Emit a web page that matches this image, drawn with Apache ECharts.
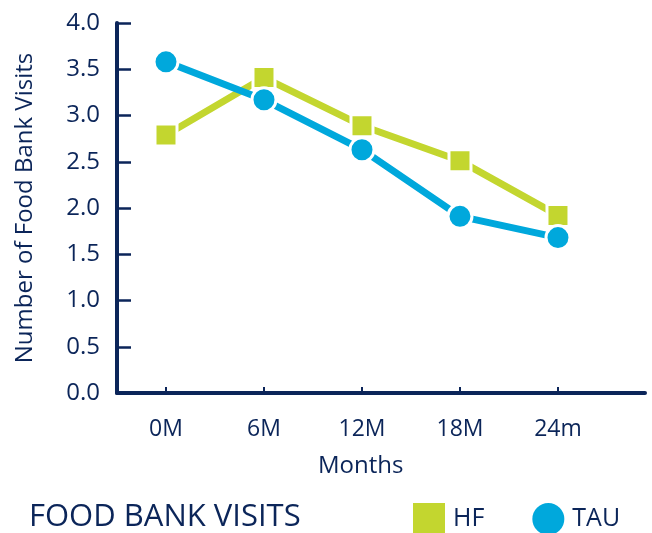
<!DOCTYPE html>
<html>
<head>
    <meta charset="UTF-8">
    <title>Food Bank Visits</title>
    <script src="https://cdn.jsdelivr.net/npm/echarts@6/dist/echarts.min.js"></script>
    <style>
        body { margin: 0; background: #fff; }
    </style>
</head>
<body>
    <div id="chart" style="width:652px; height:533px;"></div>

    <script>
        // data
        var months = ['0M', '6M', '12M', '18M', '24m'];
        var hf = [2.79, 3.41, 2.89, 2.51, 1.92];
        var tau = [3.58, 3.17, 2.63, 1.91, 1.68];
        var yTicks = [0, 0.5, 1, 1.5, 2, 2.5, 3, 3.5, 4];

        var navy = '#0b2559';
        var font = 'Open Sans';

        var chart = echarts.init(document.getElementById('chart'), null, {renderer: 'canvas'});

        var idx = months.map(function (m, i) { return i; });

        var option = {
            animation: false,
            title: {
                text: 'FOOD BANK VISITS',
                left: 24,
                top: 497,
                textStyle: {color: navy, fontFamily: font, fontSize: 31, fontWeight: 'normal'}
            },
            legend: {
                left: 408,
                top: 498,
                itemWidth: 32,
                itemHeight: 32,
                itemGap: 48,
                itemStyle: {borderWidth: 0},
                textStyle: {color: navy, fontFamily: font, fontSize: 25, padding: [0, 0, 0, 3]},
                data: [
                    {name: 'HF', icon: 'rect'},
                    {name: 'TAU', icon: 'circle'}
                ]
            },
            graphic: [{
                type: 'text',
                left: 318,
                top: 454,
                style: {text: 'Months', fill: navy, font: '24px "Open Sans"'}
            }],
            grid: {left: 117, top: 23, width: 528, height: 370},
            xAxis: {
                type: 'value',
                min: -0.5,
                max: 4.888,
                splitLine: {show: false},
                axisLine: {onZero: false, lineStyle: {color: navy, width: 4}},
                axisTick: {
                    show: true,
                    inside: true,
                    length: 6,
                    customValues: idx,
                    lineStyle: {color: navy, width: 2}
                },
                axisLabel: {
                    customValues: idx,
                    margin: 25,
                    color: navy,
                    fontFamily: font,
                    fontSize: 23,
                    formatter: function (v) { return months[Math.round(v)]; }
                }
            },
            yAxis: {
                type: 'value',
                min: 0,
                max: 4,
                interval: 0.5,
                name: 'Number of Food Bank Visits',
                nameLocation: 'middle',
                nameGap: 80,
                nameTextStyle: {color: navy, fontFamily: font, fontSize: 24},
                splitLine: {show: false},
                axisLine: {show: true, onZero: false, lineStyle: {color: navy, width: 4}},
                axisTick: {show: true, inside: true, length: 14, lineStyle: {color: navy, width: 2.5}},
                axisLabel: {
                    margin: 17,
                    color: navy,
                    fontFamily: font,
                    fontSize: 24,
                    customValues: yTicks,
                    formatter: function (v) { return v.toFixed(1); }
                }
            },
            series: [
                {
                    name: 'HF',
                    type: 'line',
                    data: hf.map(function (v, i) { return [i, v]; }),
                    symbol: 'rect',
                    symbolSize: 22,
                    lineStyle: {color: '#c3d62f', width: 7},
                    itemStyle: {color: '#c3d62f', borderColor: '#fff', borderWidth: 3}
                },
                {
                    name: 'TAU',
                    type: 'line',
                    data: tau.map(function (v, i) { return [i, v]; }),
                    symbol: 'circle',
                    symbolSize: 24,
                    lineStyle: {color: '#00a8dc', width: 7},
                    itemStyle: {color: '#00a8dc', borderColor: '#fff', borderWidth: 3}
                }
            ]
        };

        chart.setOption(option);
    </script>
</body>
</html>
